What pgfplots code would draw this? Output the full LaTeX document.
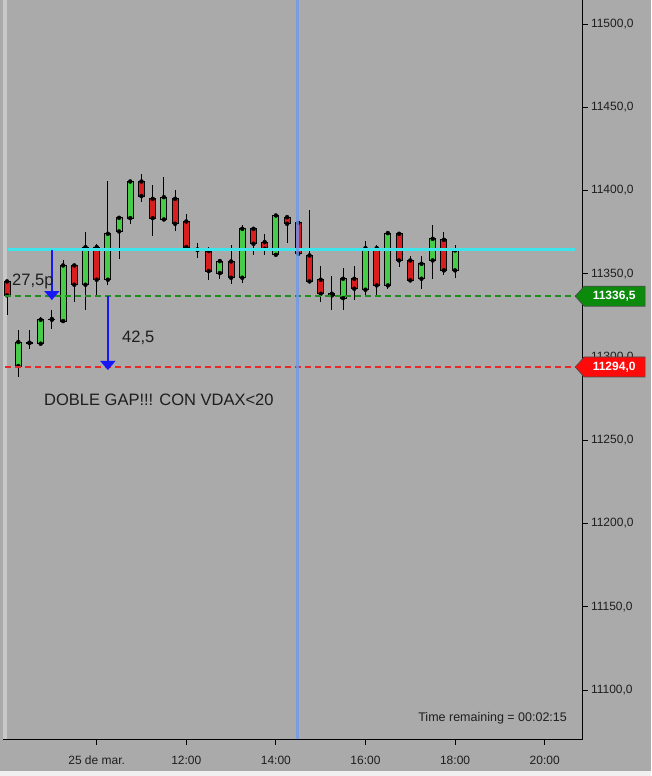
\documentclass[border=0pt]{standalone}
\usepackage{pgfplots}
\usepackage{pgfplotstable}
\pgfplotsset{compat=1.18}
\usetikzlibrary{arrows.meta, calc}
\usepackage{fontspec}
\setmainfont{Liberation Sans}

\definecolor{bg}{HTML}{AAAAAA}
\definecolor{cgreen}{HTML}{46CC46}
\definecolor{cred}{HTML}{D81E1E}
\definecolor{ccyan}{HTML}{3CE6EC}
\definecolor{dgreen}{HTML}{1F8F1F}
\definecolor{dred}{HTML}{E62828}
\definecolor{vblue}{HTML}{6F98EC}
\definecolor{ablue}{HTML}{1818F5}
\definecolor{mgreen}{HTML}{0B8A0B}
\definecolor{mred}{HTML}{FF0A0A}
\definecolor{txt}{HTML}{1E1E1E}

% 15-min candles, t in hours
\pgfplotstableread{
t o h l c
8.00 11345.4 11346.0 11325.0 11337.0
8.25 11294.6 11316.4 11288.0 11309.0
8.50 11308.6 11316.0 11305.0 11308.4
8.75 11308.0 11324.0 11307.0 11322.4
9.00 11322.8 11328.0 11317.0 11322.4
9.25 11321.6 11358.0 11321.6 11355.0
9.50 11355.0 11355.0 11333.0 11343.4
9.75 11343.4 11375.0 11328.0 11366.0
10.00 11366.0 11367.6 11336.4 11346.4
10.25 11346.4 11405.6 11343.0 11374.0
10.50 11375.4 11384.0 11359.0 11383.6
10.75 11383.4 11406.0 11380.0 11405.4
11.00 11405.4 11410.0 11393.0 11396.6
11.25 11395.0 11403.0 11372.6 11383.4
11.50 11382.6 11408.4 11382.6 11396.0
11.75 11395.0 11400.4 11375.4 11380.0
12.00 11381.4 11386.0 11365.0 11366.0
12.25 11364.6 11368.4 11359.6 11364.2
12.50 11363.6 11366.0 11346.0 11351.6
12.75 11350.4 11359.0 11347.0 11357.6
13.00 11357.4 11367.0 11344.0 11347.6
13.25 11347.6 11379.4 11344.4 11377.0
13.50 11377.0 11378.0 11361.4 11368.0
13.75 11369.0 11373.6 11361.4 11365.0
14.00 11361.4 11386.0 11361.4 11385.0
14.25 11384.0 11384.4 11368.4 11380.0
14.50 11380.6 11381.0 11362.0 11362.0
14.75 11361.0 11388.0 11345.0 11345.4
15.00 11346.4 11354.6 11333.0 11338.0
15.25 11338.0 11348.4 11328.4 11337.0
15.50 11335.4 11353.6 11328.4 11347.0
15.75 11347.0 11354.6 11334.4 11341.0
16.00 11340.4 11369.4 11337.0 11365.4
16.25 11365.4 11367.0 11337.0 11343.0
16.50 11343.0 11375.4 11341.0 11374.4
16.75 11374.0 11374.0 11354.0 11358.0
17.00 11358.0 11360.4 11345.0 11346.0
17.25 11347.0 11360.4 11341.0 11356.0
17.50 11358.0 11379.4 11347.0 11371.0
17.75 11370.4 11375.0 11349.0 11352.0
18.00 11352.0 11367.0 11347.6 11364.0
}\candles

\pgfplotsset{
  chartframe/.style={
    anchor=south west,
    width=579.5pt, height=739.5pt, scale only axis,
    xmin=7.909, xmax=20.844, ymin=11070.3, ymax=11514.4,
  },
}

\begin{document}
\begin{tikzpicture}[x=1pt, y=1pt]
% axis box sits at (0,0)-(579.5,739.5)
\useasboundingbox (-3,-36.5) rectangle (648,739.5);
\fill[bg] (-3,-36.5) rectangle (648,739.5);
\fill[white!94!black] (-3,-36.5) rectangle (648,-31.5);
\fill[white!35!bg] (0,0) rectangle (3.5,739.5);

% candle bodies (stacked: invisible base + body)
\begin{axis}[chartframe, hide axis, ybar stacked, bar width=6pt]
\addplot[draw=none, fill=none] table[x=t, y expr={min(\thisrow{o},\thisrow{c})}] {\candles};
\addplot[draw=black, line width=0.8pt, fill=cgreen] table[x=t, y expr={max(\thisrow{c}-\thisrow{o},0)}] {\candles};
\addplot[draw=black, line width=0.8pt, fill=cred] table[x=t, y expr={max(\thisrow{o}-\thisrow{c},0)}] {\candles};
\end{axis}

\begin{axis}[chartframe,
  clip mode=individual,
  axis x line*=bottom, axis y line*=right,
  axis line style={black, line width=1pt},
  tick align=outside, major tick length=5pt,
  tick style={black, line width=0.8pt},
  xtick={10,12,14,16,18,20},
  xticklabels={25 de mar.,12:00,14:00,16:00,18:00,20:00},
  ytick={11100,11150,...,11500},
  scaled y ticks=false,
  tick label style={font=\fontsize{12}{14}\selectfont, text=txt},
  /pgf/number format/assume math mode=true,
  yticklabel style={/pgf/number format/fixed, /pgf/number format/fixed zerofill,
    /pgf/number format/precision=1, /pgf/number format/use comma,
    /pgf/number format/1000 sep={}},
  xticklabel style={yshift=-8pt},
]
% wicks: above and below the body
\addplot[only marks, mark=none, error bars/.cd, y dir=plus, y explicit,
  error mark=none, error bar style={draw=black, line width=1pt}]
  table[x=t, y expr={max(\thisrow{o},\thisrow{c})},
        y error plus expr={\thisrow{h}-max(\thisrow{o},\thisrow{c})}] {\candles};
\addplot[only marks, mark=none, error bars/.cd, y dir=minus, y explicit,
  error mark=none, error bar style={draw=black, line width=1pt}]
  table[x=t, y expr={min(\thisrow{o},\thisrow{c})},
        y error minus expr={min(\thisrow{o},\thisrow{c})-\thisrow{l}}] {\candles};

% levels
\addplot[ccyan, line width=2.6pt] coordinates {(8.02,11364.5) (20.68,11364.5)};
\addplot[dgreen, line width=2pt, dash pattern=on 6pt off 4pt] coordinates {(7.95,11336.5) (20.70,11336.5)};
\addplot[dred, line width=2pt, dash pattern=on 6pt off 4pt] coordinates {(7.95,11294) (20.70,11294)};
\addplot[vblue, line width=3pt, opacity=0.8] coordinates {(14.49,11070.3) (14.49,11514.4)};

% gap arrows
\addplot[ablue, line width=1.3pt, -{Triangle[width=15pt, length=9pt]}] coordinates {(9.0,11364.5) (9.0,11334.2)};
\addplot[ablue, line width=1.3pt, -{Triangle[width=15pt, length=9pt]}] coordinates {(10.25,11336.5) (10.25,11292.2)};

\node[anchor=base west, inner sep=0, text=txt, font=\fontsize{16.5}{18}\selectfont] at (axis cs:8.11,11343.2) {27,5p};
\node[anchor=base west, inner sep=0, text=txt, font=\fontsize{16.5}{18}\selectfont] at (axis cs:10.565,11309) {42,5};
\node[anchor=base west, inner sep=0, text=txt, font=\fontsize{16.5}{18}\selectfont] at (axis cs:8.824,11270.6) {DOBLE GAP!!! CON VDAX<20};
\node[anchor=base east, inner sep=0, text=txt, font=\fontsize{12.5}{14}\selectfont] at (axis cs:20.50,11081.1) {Time remaining = 00:02:15};

\coordinate (gm) at (axis cs:20.68,11336.5);
\coordinate (rm) at (axis cs:20.68,11294);
\end{axis}

% price markers on the right scale
\draw[black!70, fill=mgreen, line width=0.6pt] (gm) -- ++(9,10) -- ++(61,0) -- ++(0,-20) -- ++(-61,0) -- cycle;
\node[text=white, font=\fontsize{12}{14}\selectfont\bfseries] at ($(gm)+(39,0)$) {11336,5};
\draw[black!70, fill=mred, line width=0.6pt] (rm) -- ++(9,10) -- ++(61,0) -- ++(0,-20) -- ++(-61,0) -- cycle;
\node[text=white, font=\fontsize{12}{14}\selectfont\bfseries] at ($(rm)+(39,0)$) {11294,0};
\end{tikzpicture}
\end{document}
